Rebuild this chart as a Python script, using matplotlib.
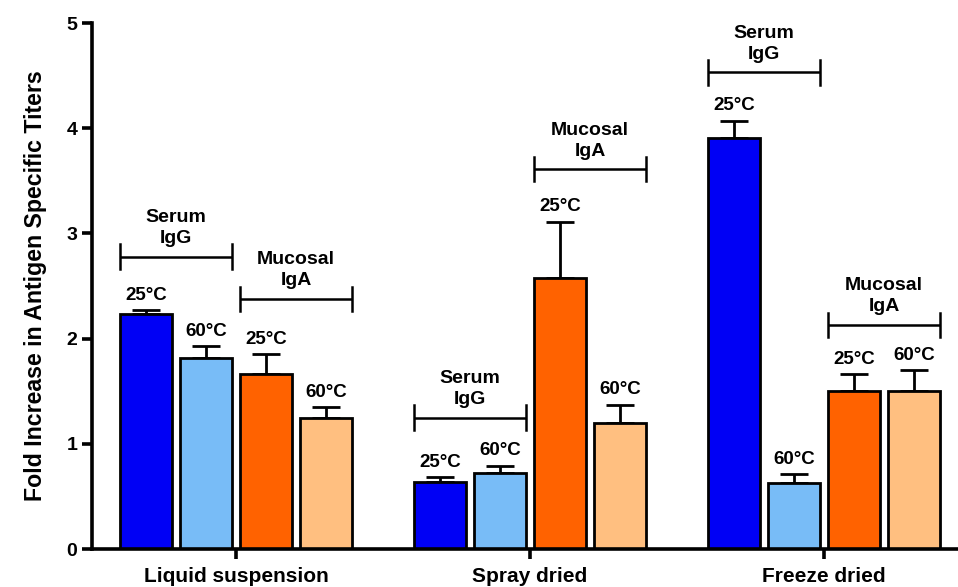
import matplotlib.pyplot as plt
import numpy as np

plt.rcParams['font.family'] = ['Liberation Sans', 'DejaVu Sans']
plt.rcParams['font.weight'] = 'bold'

groups = ["Liquid suspension", "Spray dried", "Freeze dried"]
temps = ["25°C", "60°C", "25°C", "60°C"]
colors = ["#0000f5", "#78bcf7", "#ff6200", "#ffbf80"]

# mean fold increase per group: serum IgG 25/60, mucosal IgA 25/60
means = [
    [2.23, 1.82, 1.66, 1.25],
    [0.64, 0.72, 2.58, 1.20],
    [3.91, 0.63, 1.50, 1.50],
]
errs = [
    [0.04, 0.11, 0.19, 0.10],
    [0.04, 0.07, 0.53, 0.17],
    [0.16, 0.08, 0.16, 0.20],
]
# bracket heights: (serum IgG, mucosal IgA)
bracket_y = [
    [2.78, 2.38],
    [1.25, 3.61],
    [4.53, 2.13],
]


def bracket(ax, x0, x1, y, text):
    h = 0.115
    ax.plot([x0, x1], [y, y], color="black", lw=1.8, solid_capstyle="butt")
    ax.plot([x0, x0], [y - h, y + h], color="black", lw=1.8)
    ax.plot([x1, x1], [y - h, y + h], color="black", lw=1.8)
    ax.annotate(text, xy=((x0 + x1) / 2, y), xytext=(0, 7),
                textcoords="offset points", ha="center", va="bottom",
                fontsize=14, fontweight="bold", linespacing=1.3)


def main():
    fig = plt.figure(figsize=(9.58, 5.87), dpi=100)
    ax = fig.add_axes([92 / 958, 1 - 549 / 587, 1 - 92 / 958, (549 - 23) / 587])

    width = 0.87
    centers = np.arange(len(groups)) * 4.9
    offsets = np.array([-1.5, -0.5, 0.5, 1.5])

    for g, c in enumerate(centers):
        xs = c + offsets
        ax.bar(xs, means[g], width=width, color=colors, edgecolor="black",
               linewidth=2, zorder=2)
        ax.errorbar(xs, means[g], yerr=[np.zeros(4), errs[g]], fmt="none",
                    ecolor="black", elinewidth=2, capsize=10, capthick=2,
                    zorder=1)
        for x, m, e, t in zip(xs, means[g], errs[g], temps):
            ax.annotate(t, xy=(x, m + e), xytext=(0, 7.5),
                        textcoords="offset points", ha="center",
                        va="baseline", fontsize=13.5, fontweight="bold")
        bracket(ax, xs[0] - width / 2, xs[1] + width / 2,
                bracket_y[g][0], "Serum\nIgG")
        bracket(ax, xs[2] - width / 2, xs[3] + width / 2,
                bracket_y[g][1], "Mucosal\nIgA")

    ax.set_xlim(-2.4, 12.03)
    ax.set_ylim(0, 5)
    ax.set_xticks(centers)
    ax.set_xticklabels(groups, fontsize=15, fontweight="bold")
    ax.set_yticks(range(6))
    ax.set_yticklabels([str(v) for v in range(6)], fontsize=14,
                       fontweight="bold")
    ax.set_ylabel("Fold Increase in Antigen Specific Titers", fontsize=16.7,
                  fontweight="bold", labelpad=14)

    for side in ["top", "right"]:
        ax.spines[side].set_visible(False)
    for side in ["left", "bottom"]:
        ax.spines[side].set_linewidth(2.6)
    ax.tick_params(axis="both", width=2.6, length=7.5)
    ax.tick_params(axis="y", pad=3)
    ax.tick_params(axis="x", pad=5.5)

    fig.savefig("out.png", dpi=100)


if __name__ == "__main__":
    main()
